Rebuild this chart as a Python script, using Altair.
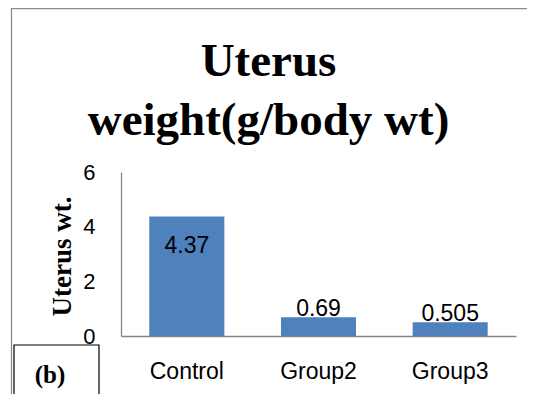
import altair as alt
import pandas as pd

groups = ["Control", "Group2", "Group3"]
values = [4.37, 0.69, 0.505]
labels = ["4.37", "0.69", "0.505"]

df = pd.DataFrame({"group": groups, "value": values, "label": labels})

BAR = "#4F81BD"
SANS = "Liberation Sans"
SERIF = "Liberation Serif"

x_enc = alt.X("group:N", sort=groups,
              scale=alt.Scale(paddingInner=0.43, paddingOuter=0.215),
              axis=alt.Axis(title=None, labelAngle=0, labelFont=SANS, labelFontSize=23,
                            labelColor="#000000", ticks=False, tickSize=0, labelPadding=24,
                            domainColor="#868686", domainWidth=1.3))
y_enc = alt.Y("value:Q", scale=alt.Scale(domain=[0, 6], nice=False),
              axis=alt.Axis(values=[0, 2, 4, 6], grid=False, ticks=False, tickSize=0,
                            labelFont=SANS, labelFontSize=22, labelColor="#000000",
                            labelPadding=26, domainColor="#868686", domainWidth=1.3,
                            title="Uterus wt.", titleFont=SERIF, titleFontSize=27,
                            titleFontWeight="bold", titleColor="#000000",
                            titleAngle=270, titleAlign="center", titleBaseline="middle",
                            titleX=-59, titleY=84))

base = alt.Chart(df)

bars = base.mark_bar(color=BAR).encode(x=x_enc, y=y_enc)

big_lab = base.transform_filter("datum.value > 2").mark_text(
    font=SANS, fontSize=23, color="#000000", baseline="middle", dy=29
).encode(x=alt.X("group:N", sort=groups), y="value:Q", text="label:N")

small_lab = base.transform_filter("datum.value <= 2").mark_text(
    font=SANS, fontSize=23, color="#000000", baseline="alphabetic", dy=-1
).encode(x=alt.X("group:N", sort=groups), y="value:Q", text="label:N")

one = alt.Data(values=[{"k": 1}])

frame = alt.Chart(one).mark_rect(fill="transparent", stroke="#8c8c8c", strokeWidth=1.3).encode(
    x=alt.value(-109.5), x2=alt.value(440), y=alt.value(-163.3), y2=alt.value(260))

bbox = alt.Chart(one).mark_rect(fill="white", stroke="#000000", strokeWidth=1.2).encode(
    x=alt.value(-107), x2=alt.value(-22), y=alt.value(173), y2=alt.value(240))
btext = alt.Chart(one).mark_text(font=SERIF, fontSize=25, fontWeight="bold",
                                 color="#000000", baseline="middle", align="center").encode(
    x=alt.value(-71), y=alt.value(203), text=alt.value("(b)"))

chart = alt.layer(frame, bars, big_lab, small_lab, bbox, btext).properties(
    width=395, height=164,
    title=alt.TitleParams(["Uterus", "weight(g/body wt)"], font=SERIF, fontSize=47,
                          fontWeight="bold", color="#000000", anchor="middle",
                          frame="group", dx=-50, dy=204, lineHeight=59, offset=20,
                          baseline="bottom"),
    autosize=alt.AutoSizeParams(type="none"),
    padding={"left": 113, "top": 164, "right": 11, "bottom": 58},
).configure_view(stroke=None)

chart.save("out.html", embed_options={"renderer": "svg", "actions": False})
